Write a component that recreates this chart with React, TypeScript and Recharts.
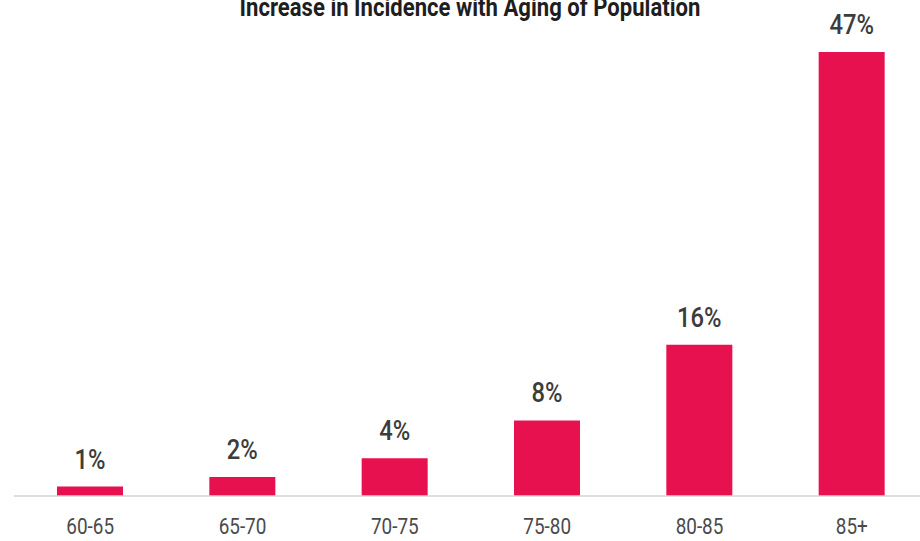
import { Bar, BarChart, LabelList, XAxis, YAxis } from 'recharts';

const ageGroups = ['60-65', '65-70', '70-75', '75-80', '80-85', '85+'];
const incidence = [1, 2, 4, 8, 16, 47];
const title = 'Increase in Incidence with Aging of Population';

const data = ageGroups.map((age, i) => ({ age, pct: incidence[i] }));

const font = 'Roboto, "DejaVu Sans", sans-serif';
const RED = '#E8114F';

// Source uses a condensed face; squeeze Roboto horizontally to match.
function AgeTick({ x, y, payload }: any) {
  return (
    <g transform={`translate(${x},${y + 30}) scale(0.86,1)`}>
      <text textAnchor="middle" fill="#4a4a4a" fontSize={22} fontFamily={font}>
        {payload.value}
      </text>
    </g>
  );
}

function PctLabel({ x, y, width, value }: any) {
  const cx = Number(x) + Number(width) / 2;
  return (
    <g transform={`translate(${cx},${Number(y) - 18}) scale(0.88,1)`}>
      <text textAnchor="middle" fill="#3c3c3c" fontSize={27} fontWeight={500} fontFamily={font}>
        {`${value}%`}
      </text>
    </g>
  );
}

export default function App() {
  return (
    <div
      style={{
        position: 'fixed',
        left: 0,
        top: 0,
        width: 920,
        height: 541,
        overflow: 'hidden',
        background: '#fff',
        fontFamily: font,
      }}
    >
      {/* Title sits partly above the visible frame, as in the source image. */}
      <div
        style={{
          position: 'absolute',
          left: 0,
          width: 940,
          top: -6,
          lineHeight: '26px',
          textAlign: 'center',
          fontSize: 26,
          fontWeight: 'bold',
          color: '#1e1e1e',
          whiteSpace: 'nowrap',
          transform: 'scaleX(0.85)',
        }}
      >
        {title}
      </div>
      <BarChart width={930} height={541} data={data} margin={{ top: 52, right: 2, bottom: 0, left: 14 }}>
        <YAxis hide domain={[0, 47]} />
        <XAxis
          dataKey="age"
          height={45}
          axisLine={{ stroke: '#d4d4d4', strokeWidth: 1.5 }}
          tickLine={false}
          tick={<AgeTick />}
          interval={0}
        />
        <Bar dataKey="pct" fill={RED} barSize={66} isAnimationActive={false}>
          <LabelList dataKey="pct" content={<PctLabel />} />
        </Bar>
      </BarChart>
    </div>
  );
}
